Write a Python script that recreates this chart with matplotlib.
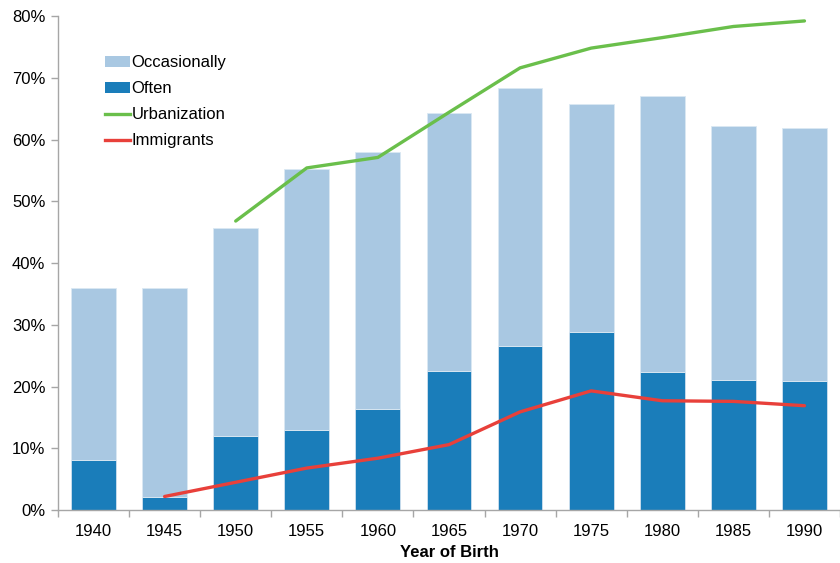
import numpy as np
import matplotlib.pyplot as plt
from matplotlib.patches import Patch
from matplotlib.lines import Line2D
from matplotlib.ticker import FixedLocator, PercentFormatter

plt.rcParams['font.family'] = ['Liberation Sans', 'DejaVu Sans']

years = [1940, 1945, 1950, 1955, 1960, 1965, 1970, 1975, 1980, 1985, 1990]
total = [36.0, 36.0, 45.7, 55.2, 58.0, 64.3, 68.3, 65.7, 67.0, 62.2, 61.8]
often = [8.1, 2.1, 12.0, 13.0, 16.4, 22.5, 26.6, 28.8, 22.3, 21.0, 20.9]
urban_years = [1950, 1955, 1960, 1965, 1970, 1975, 1980, 1985, 1990]
urbanization = [46.8, 55.4, 57.1, 64.4, 71.6, 74.8, 76.5, 78.3, 79.2]
immig_years = [1945, 1950, 1955, 1960, 1965, 1970, 1975, 1980, 1985, 1990]
immigrants = [2.2, 4.5, 6.8, 8.4, 10.6, 15.9, 19.3, 17.7, 17.6, 16.9]

LIGHT = '#a9c8e2'
DARK = '#1a7dba'
GREEN = '#6abf4b'
RED = '#e8403a'
GREY = '#a6a6a6'

x = np.arange(len(years))
occasionally = np.array(total) - np.array(often)

fig = plt.figure(figsize=(8.4, 5.63), dpi=100)
ax = fig.add_axes([0.069, 0.094, 0.931, 0.8776])

ax.bar(x, often, width=0.63, color=DARK, edgecolor='#cfe0ef', linewidth=0.6)
ax.bar(x, occasionally, bottom=often, width=0.63, color=LIGHT,
       edgecolor='#dbe8f3', linewidth=0.6)

ux = [years.index(y) for y in urban_years]
ix = [years.index(y) for y in immig_years]
ax.plot(ux, urbanization, color=GREEN, lw=2.4, solid_capstyle='round')
ax.plot(ix, immigrants, color=RED, lw=2.4, solid_capstyle='round')

ax.set_xlim(-0.5, len(years) - 0.5)
ax.set_ylim(0, 80)
ax.set_xticks(x)
ax.set_xticklabels([str(y) for y in years])
ax.xaxis.set_minor_locator(FixedLocator(np.arange(-0.5, len(years), 1.0)))
ax.tick_params(axis='x', which='major', length=0, pad=10, labelsize=12)
ax.tick_params(axis='x', which='minor', length=5, color=GREY, width=1)
ax.set_yticks(np.arange(0, 81, 10))
ax.yaxis.set_major_formatter(PercentFormatter(decimals=0))
ax.tick_params(axis='y', length=5, color=GREY, width=1, labelsize=12, pad=4)

for side in ('top', 'right'):
    ax.spines[side].set_visible(False)
for side in ('left', 'bottom'):
    ax.spines[side].set_color(GREY)
    ax.spines[side].set_linewidth(1)

ax.set_xlabel('Year of Birth', fontsize=12, fontweight='bold', labelpad=4)

handles = [
    Patch(facecolor=LIGHT, edgecolor='none', label='Occasionally'),
    Patch(facecolor=DARK, edgecolor='none', label='Often'),
    Line2D([], [], color=GREEN, lw=2.4, label='Urbanization'),
    Line2D([], [], color=RED, lw=2.4, label='Immigrants'),
]
ax.legend(handles=handles, loc='upper left', bbox_to_anchor=(0.051, 0.934),
          frameon=False, fontsize=12, handlelength=1.5, handleheight=0.6,
          handletextpad=0.12, labelspacing=0.66, borderaxespad=0)

fig.savefig('out.png', dpi=100)
